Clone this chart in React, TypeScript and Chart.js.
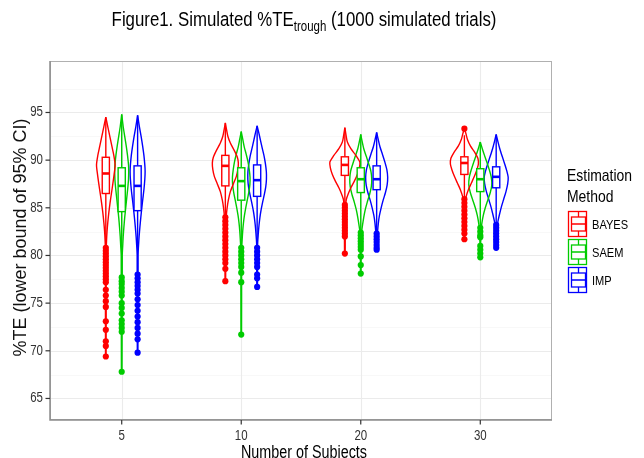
import React, { useEffect, useRef } from "react";
import { Chart, registerables } from "chart.js";

Chart.register(...registerables);

// ---------------- data ----------------
const categories = ["5", "10", "20", "30"];
const methods = ["BAYES", "SAEM", "IMP"];
const methodColors = ["#ff0000", "#00cc00", "#0000ff"];
const yTicks = [65, 70, 75, 80, 85, 90, 95];
const yMinorTicks = [67.5, 72.5, 77.5, 82.5, 87.5, 92.5, 97.5];

// box stats per category: [lower whisker, q1, median, q3, upper whisker]
const bayesBox = [
  [81.0, 86.5, 88.6, 90.3, 94.5],
  [84.2, 87.3, 89.4, 90.5, 93.9],
  [85.5, 88.4, 89.5, 90.35, 93.4],
  [86.0, 88.5, 89.7, 90.35, 92.6],
];
const saemBox = [
  [78.0, 84.6, 87.3, 89.2, 94.8],
  [80.9, 85.8, 87.8, 89.2, 93.0],
  [82.6, 86.6, 88.0, 89.2, 92.7],
  [83.0, 86.7, 88.0, 89.1, 91.9],
];
const impBox = [
  [78.2, 84.7, 87.3, 89.4, 94.7],
  [81.0, 86.2, 87.9, 89.5, 93.6],
  [82.5, 86.9, 88.0, 89.4, 92.9],
  [83.3, 87.1, 88.25, 89.3, 92.7],
];

// outliers per category
const bayesOutliers = [
  [80.8, 80.5, 80.2, 79.9, 79.6, 79.3, 79.0, 78.7, 78.4, 78.1, 77.8, 77.5, 77.2, 76.4, 75.8, 75.2, 74.6, 73.1, 72.2, 71.0, 70.5, 69.4],
  [84.0, 83.6, 83.2, 82.8, 82.4, 82.0, 81.6, 81.2, 80.8, 80.4, 80.0, 79.6, 79.2, 78.6, 77.3],
  [85.3, 85.0, 84.7, 84.4, 84.1, 83.8, 83.5, 83.2, 82.9, 82.6, 82.3, 82.0, 80.2],
  [93.3, 85.9, 85.5, 85.1, 84.7, 84.3, 83.9, 83.5, 83.1, 82.7, 82.3, 81.7],
];
const saemOutliers = [
  [77.7, 77.3, 77.0, 76.6, 76.2, 75.8, 75.0, 74.5, 73.9, 73.2, 72.8, 72.4, 72.0, 67.8],
  [80.8, 80.4, 80.0, 79.6, 79.2, 78.8, 78.2, 77.2, 71.7],
  [82.4, 82.1, 81.8, 81.5, 81.2, 80.9, 80.6, 79.9, 79.0, 78.1],
  [82.9, 82.5, 82.1, 81.9, 81.0, 80.6, 80.2, 79.8],
];
const impOutliers = [
  [78.0, 77.6, 77.2, 76.8, 76.4, 76.0, 75.4, 74.8, 74.2, 73.6, 73.0, 72.4, 71.8, 71.2, 69.8],
  [80.8, 80.4, 80.0, 79.6, 79.2, 78.8, 78.0, 77.6, 76.7],
  [82.3, 82.0, 81.7, 81.4, 81.1, 80.8, 80.6],
  [83.2, 82.9, 82.6, 82.3, 82.0, 81.7, 81.4, 81.1, 80.8],
];

// violin density profiles per category: [value, relative density]
const bayesViolin = [
  [[94.5, 0], [93.5, 2], [92.5, 4], [91.5, 6], [90.5, 8], [89.5, 9.3], [88.5, 8.3], [87.5, 7], [86.5, 5.6], [85.5, 4.2], [84.5, 3], [83.5, 2], [82.5, 1.2], [81.5, 0.7], [80.5, 0.4], [69.4, 0.3]],
  [[93.9, 0], [93.2, 1.2], [92.5, 2.5], [91.8, 5], [91, 9], [90.3, 12], [89.7, 13], [89, 12.5], [88.3, 11], [87.5, 8], [86.7, 5], [85.8, 3], [85, 1.8], [84.2, 1], [83, 0.5], [77.3, 0.3]],
  [[93.4, 0], [92.6, 1.2], [91.9, 2.5], [91.2, 6], [90.5, 11], [89.8, 15], [89.2, 14.5], [88.5, 12.5], [87.8, 9.5], [87.1, 6], [86.5, 3.5], [85.9, 1.5], [85.3, 0.8], [84, 0.4], [80.2, 0.3]],
  [[93.3, 0], [92.8, 1.5], [92.2, 3], [91.5, 6], [90.8, 10.5], [90.2, 13.5], [89.6, 14], [89, 12.5], [88.3, 10], [87.6, 7], [86.9, 4], [86.2, 1.8], [85.6, 1], [84.5, 0.4], [81.7, 0.3]],
];
const saemViolin = [
  [[94.8, 0], [93.5, 1.5], [92.5, 3], [91.5, 4.5], [90.5, 5.8], [89.5, 6.8], [88.8, 7], [88, 6.8], [87, 6], [86, 5], [85, 4], [84, 3], [83, 2.2], [82, 1.5], [81, 1], [80, 0.5], [67.8, 0.3]],
  [[93, 0], [92.2, 1.5], [91.4, 3], [90.6, 5], [89.8, 6.8], [89, 8], [88.2, 8.8], [87.4, 8.6], [86.6, 7.5], [85.8, 6], [85, 4.5], [84.2, 3.2], [83.4, 2.2], [82.6, 1.5], [81.6, 0.9], [80.5, 0.4], [71.7, 0.3]],
  [[92.7, 0], [92, 1.3], [91.2, 3], [90.4, 5.5], [89.6, 8], [88.8, 10.2], [88, 11], [87.2, 10.5], [86.4, 8.8], [85.6, 6.5], [84.8, 4.5], [84, 3], [83.2, 1.8], [82.6, 1], [81.5, 0.4], [78.1, 0.3]],
  [[91.9, 0], [91.2, 2], [90.5, 4.2], [89.8, 6.5], [89, 9], [88.2, 11], [87.4, 11.5], [86.6, 10], [85.8, 7.5], [85, 5], [84.2, 3], [83.4, 1.6], [82.8, 0.9], [81.5, 0.4], [79.8, 0.3]],
];
const impViolin = [
  [[94.7, 0], [93.5, 1.8], [92.5, 3.5], [91.5, 5], [90.5, 6.3], [89.5, 7.2], [88.8, 7.5], [88, 7.2], [87, 6.4], [86, 5.3], [85, 4.2], [84, 3.2], [83, 2.3], [82, 1.5], [81, 0.9], [80, 0.4], [69.8, 0.3]],
  [[93.6, 0], [92.8, 1.8], [92, 3.5], [91.2, 5.2], [90.4, 7], [89.6, 8.3], [88.8, 9.2], [88, 9.3], [87.2, 8.6], [86.4, 7.2], [85.6, 5.5], [84.8, 4], [84, 2.8], [83.2, 1.9], [82.2, 1.1], [81.2, 0.5], [76.7, 0.3]],
  [[92.9, 0], [92.2, 1.5], [91.4, 3.3], [90.6, 5.8], [89.8, 8.2], [89, 10.2], [88.2, 11], [87.4, 10.5], [86.6, 8.8], [85.8, 6.5], [85, 4.5], [84.2, 2.8], [83.4, 1.7], [82.6, 1], [81.5, 0.4], [80.6, 0.3]],
  [[92.7, 0], [92, 1.6], [91.2, 3.6], [90.4, 6], [89.6, 8.5], [88.8, 10.8], [88.2, 12], [87.5, 11.5], [86.7, 9.8], [85.9, 7.5], [85.1, 5.2], [84.3, 3.3], [83.6, 1.8], [83, 1], [81.8, 0.4], [80.8, 0.3]],
];

const boxes = [bayesBox, saemBox, impBox];
const outliers = [bayesOutliers, saemOutliers, impOutliers];
const violins = [bayesViolin, saemViolin, impViolin];

// ---------------- layout constants ----------------
const W = 644;
const H = 458;
const Y_MIN = 62.74;
const Y_MAX = 100.4;
const DODGE = 0.133;
const VIOLIN_SCALE = 1 / 119.5;
const BOX_HALF = 0.03;
const NARROW = 0.82;
const FONT = '"Liberation Sans", Arial, Helvetica, sans-serif';

function drawText(
  ctx: CanvasRenderingContext2D,
  text: string,
  x: number,
  y: number,
  size: number,
  opts: { narrow?: boolean; color?: string; align?: CanvasTextAlign; baseline?: CanvasTextBaseline; rotate?: number } = {}
) {
  const sx = opts.narrow ? NARROW : 1;
  ctx.save();
  ctx.font = `${size}px ${FONT}`;
  ctx.fillStyle = opts.color ?? "#000";
  ctx.textAlign = opts.align ?? "left";
  ctx.textBaseline = opts.baseline ?? "middle";
  ctx.translate(x, y);
  if (opts.rotate) ctx.rotate(opts.rotate);
  ctx.scale(sx, 1);
  ctx.fillText(text, 0, 0);
  ctx.restore();
}

function textWidth(ctx: CanvasRenderingContext2D, text: string, size: number, narrow: boolean) {
  ctx.save();
  ctx.font = `${size}px ${FONT}`;
  const w = ctx.measureText(text).width * (narrow ? NARROW : 1);
  ctx.restore();
  return w;
}

const backgroundPlugin = {
  id: "ggBackground",
  beforeDatasetsDraw(chart: any) {
    const { ctx, chartArea: a, scales } = chart;
    const xs = scales.x;
    const ys = scales.y;
    ctx.save();
    ctx.fillStyle = "#ffffff";
    ctx.fillRect(a.left, a.top, a.right - a.left, a.bottom - a.top);
    ctx.strokeStyle = "#f4f4f4";
    ctx.lineWidth = 0.6;
    for (const v of yMinorTicks) {
      const y = Math.round(ys.getPixelForValue(v)) + 0.5;
      ctx.beginPath();
      ctx.moveTo(a.left, y);
      ctx.lineTo(a.right, y);
      ctx.stroke();
    }
    ctx.strokeStyle = "#ebebeb";
    ctx.lineWidth = 1.1;
    for (const v of yTicks) {
      const y = Math.round(ys.getPixelForValue(v)) + 0.5;
      ctx.beginPath();
      ctx.moveTo(a.left, y);
      ctx.lineTo(a.right, y);
      ctx.stroke();
    }
    categories.forEach((_, i) => {
      const x = Math.round(xs.getPixelForValue(i + 1)) + 0.5;
      ctx.beginPath();
      ctx.moveTo(x, a.top);
      ctx.lineTo(x, a.bottom);
      ctx.stroke();
    });
    ctx.restore();
  },
};

const overlayPlugin = {
  id: "ggOverlay",
  afterDatasetsDraw(chart: any) {
    const { ctx, scales } = chart;
    const xs = scales.x;
    const ys = scales.y;
    ctx.save();
    methods.forEach((_, m) => {
      const color = methodColors[m];
      boxes[m].forEach((st, c) => {
        const cx = c + 1 + (m - 1) * DODGE;
        const px = xs.getPixelForValue(cx);
        const x0 = xs.getPixelForValue(cx - BOX_HALF);
        const x1 = xs.getPixelForValue(cx + BOX_HALF);
        const [lo, q1, med, q3, hi] = st.map((v) => ys.getPixelForValue(v));
        ctx.strokeStyle = color;
        ctx.lineWidth = 1.4;
        ctx.beginPath();
        ctx.moveTo(px, lo);
        ctx.lineTo(px, q1);
        ctx.moveTo(px, q3);
        ctx.lineTo(px, hi);
        ctx.stroke();
        ctx.fillStyle = "#ffffff";
        ctx.fillRect(x0, q3, x1 - x0, q1 - q3);
        ctx.strokeRect(x0, q3, x1 - x0, q1 - q3);
        ctx.lineWidth = 2.6;
        ctx.beginPath();
        ctx.moveTo(x0, med);
        ctx.lineTo(x1, med);
        ctx.stroke();
      });
    });
    ctx.restore();
  },
  afterDraw(chart: any) {
    const { ctx, chartArea: a, scales } = chart;
    const xs = scales.x;
    const ys = scales.y;
    ctx.save();
    ctx.strokeStyle = "#b0b0b0";
    ctx.lineWidth = 1;
    ctx.strokeRect(a.left + 0.5, a.top + 0.5, a.right - a.left - 1, a.bottom - a.top - 1);
    ctx.strokeStyle = "#8c8c8c";
    ctx.lineWidth = 1.5;
    ctx.beginPath();
    ctx.moveTo(a.left, a.top);
    ctx.lineTo(a.left, a.bottom);
    ctx.lineTo(a.right, a.bottom);
    ctx.stroke();
    ctx.strokeStyle = "#333";
    ctx.lineWidth = 1.2;
    for (const v of yTicks) {
      const y = ys.getPixelForValue(v);
      ctx.beginPath();
      ctx.moveTo(a.left - 4.5, y);
      ctx.lineTo(a.left, y);
      ctx.stroke();
      drawText(ctx, String(v), a.left - 7, y, 14, { narrow: true, align: "right", color: "#333" });
    }
    categories.forEach((lab, i) => {
      const x = xs.getPixelForValue(i + 1);
      ctx.beginPath();
      ctx.moveTo(x, a.bottom);
      ctx.lineTo(x, a.bottom + 4.5);
      ctx.stroke();
      drawText(ctx, lab, x, a.bottom + 16, 14, { narrow: true, align: "center", color: "#333" });
    });
    const midX = (a.left + a.right) / 2;
    drawText(ctx, "Number of Subjects", midX + 3, a.bottom + 33, 17.5, { narrow: true, align: "center" });
    drawText(ctx, "%TE (lower bound of 95% CI)", 21, (a.top + a.bottom) / 2 - 3, 18, {
      align: "center",
      rotate: -Math.PI / 2,
      color: "#111",
    });
    const s1 = "Figure1. Simulated %TE";
    const s2 = "trough";
    const s3 = " (1000 simulated trials)";
    const fs = 20.5;
    const fsSub = 14;
    const w1 = textWidth(ctx, s1, fs, true);
    const w2 = textWidth(ctx, s2, fsSub, true);
    const w3 = textWidth(ctx, s3, fs, true);
    let tx = 304 - (w1 + w2 + w3) / 2;
    const ty = 26;
    drawText(ctx, s1, tx, ty, fs, { narrow: true, baseline: "alphabetic" });
    tx += w1;
    drawText(ctx, s2, tx, ty + 5, fsSub, { narrow: true, baseline: "alphabetic" });
    tx += w2;
    drawText(ctx, s3, tx, ty, fs, { narrow: true, baseline: "alphabetic" });
    const lx = 567;
    drawText(ctx, "Estimation", lx, 176, 17, { narrow: true });
    drawText(ctx, "Method", lx, 197, 17, { narrow: true });
    const keyW = 20;
    const keyH = 28;
    methods.forEach((name, m) => {
      const ky = 210 + m * keyH;
      const color = methodColors[m];
      ctx.strokeStyle = color;
      ctx.lineWidth = 1.3;
      ctx.strokeRect(lx + 1.5, ky + 1.5, keyW - 2, keyH - 3);
      const bx0 = lx + 4.5;
      const bx1 = lx + keyW - 1.5;
      const by0 = ky + keyH * 0.25;
      const by1 = ky + keyH * 0.75;
      ctx.strokeRect(bx0, by0, bx1 - bx0, by1 - by0);
      ctx.beginPath();
      ctx.moveTo(bx0, ky + keyH * 0.5);
      ctx.lineTo(bx1, ky + keyH * 0.5);
      const cx = (bx0 + bx1) / 2;
      ctx.moveTo(cx, ky + 1.5);
      ctx.lineTo(cx, by0);
      ctx.moveTo(cx, by1);
      ctx.lineTo(cx, ky + keyH - 1.5);
      ctx.stroke();
      drawText(ctx, name, lx + keyW + 5, ky + keyH / 2 + 1, 13.5, { narrow: true });
    });
    ctx.restore();
  },
};

function buildDatasets() {
  const ds: any[] = [];
  methods.forEach((name, m) => {
    const color = methodColors[m];
    violins[m].forEach((profile, c) => {
      const cx = c + 1 + (m - 1) * DODGE;
      const right = profile.map(([v, d]) => ({ x: cx + d * VIOLIN_SCALE, y: v }));
      const left = profile
        .slice()
        .reverse()
        .map(([v, d]) => ({ x: cx - d * VIOLIN_SCALE, y: v }));
      ds.push({
        label: `${name} violin ${categories[c]}`,
        data: [...right, ...left],
        showLine: true,
        fill: false,
        borderColor: color,
        borderWidth: 1.4,
        pointRadius: 0,
        tension: 0.25,
      });
    });
    outliers[m].forEach((vals, c) => {
      const cx = c + 1 + (m - 1) * DODGE;
      ds.push({
        label: `${name} outliers ${categories[c]}`,
        data: vals.map((v) => ({ x: cx, y: v })),
        showLine: false,
        pointRadius: 3.1,
        pointBorderWidth: 0,
        pointBackgroundColor: color,
        backgroundColor: color,
        borderColor: color,
      });
    });
  });
  return ds;
}

export default function App() {
  const ref = useRef<HTMLCanvasElement | null>(null);
  useEffect(() => {
    if (!ref.current) return;
    const chart = new Chart(ref.current, {
      type: "scatter",
      data: { datasets: buildDatasets() },
      options: {
        responsive: false,
        animation: false,
        layout: { padding: { left: 50, right: W - 552, top: 61, bottom: H - 420 } },
        scales: {
          x: { type: "linear", min: 0.4, max: 4.6, display: false },
          y: { type: "linear", min: Y_MIN, max: Y_MAX, display: false },
        },
        plugins: { legend: { display: false }, tooltip: { enabled: false }, title: { display: false } },
      },
      plugins: [backgroundPlugin, overlayPlugin],
    } as any);
    return () => chart.destroy();
  }, []);
  return (
    <div style={{ position: "absolute", left: 0, top: 0, width: W, height: H, background: "#fff" }}>
      <canvas ref={ref} width={W} height={H} style={{ display: "block", width: W, height: H }} />
    </div>
  );
}
